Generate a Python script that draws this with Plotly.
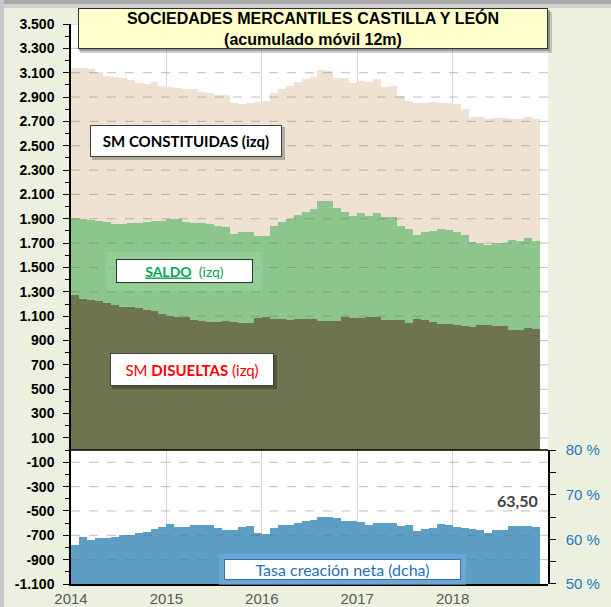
import numpy as np
import pandas as pd
import plotly.graph_objects as go

# ---------------- data ----------------
months = pd.date_range("2014-01-01", periods=59, freq="MS")

constituidas = [3140, 3140, 3130, 3105, 3075, 3065, 3060, 3040, 3015, 3010,
                3020, 2990, 2985, 2975, 2970, 2965, 2945, 2935, 2920, 2915,
                2850, 2840, 2855, 2860, 2870, 2930, 2970, 2990, 3020, 3045,
                3065, 3120, 3110, 3055, 3060, 3015, 3035, 3020, 3045, 2980,
                2990, 2910, 2870, 2850, 2850, 2860, 2855, 2855, 2845, 2800,
                2735, 2735, 2720, 2728, 2728, 2720, 2718, 2740, 2720]

saldo = [1905, 1895, 1890, 1880, 1870, 1860, 1858, 1862, 1868, 1870,
         1880, 1885, 1895, 1895, 1870, 1862, 1865, 1855, 1840, 1830,
         1775, 1790, 1795, 1762, 1762, 1840, 1875, 1900, 1935, 1955,
         1978, 2046, 2046, 1986, 1958, 1923, 1945, 1923, 1950, 1912,
         1912, 1841, 1816, 1767, 1789, 1802, 1816, 1808, 1795, 1767,
         1712, 1698, 1685, 1698, 1705, 1726, 1720, 1740, 1720]

disueltas = [1274, 1240, 1235, 1225, 1210, 1195, 1175, 1172, 1170, 1150,
             1140, 1115, 1100, 1095, 1090, 1070, 1060, 1055, 1055, 1058,
             1055, 1045, 1040, 1085, 1095, 1080, 1075, 1070, 1075, 1078,
             1075, 1062, 1060, 1058, 1090, 1085, 1088, 1092, 1092, 1068,
             1070, 1066, 1040, 1075, 1068, 1050, 1035, 1038, 1030, 1020,
             1015, 1025, 1028, 1020, 1020, 990, 985, 1000, 998]

tasa = [58.7, 60.4, 59.9, 60.3, 60.3, 60.5, 61.0, 61.0, 61.5, 61.6,
        62.2, 62.8, 63.5, 62.7, 62.8, 63.2, 63.2, 63.1, 62.6, 62.1,
        62.0, 62.8, 63.0, 61.3, 61.1, 62.6, 63.3, 63.3, 63.7, 64.0,
        64.4, 65.1, 65.1, 64.7, 64.0, 64.0, 63.8, 63.1, 63.6, 63.6,
        63.6, 62.9, 63.3, 61.9, 62.4, 62.6, 63.4, 63.1, 62.8, 62.6,
        62.3, 62.0, 61.4, 62.0, 62.0, 63.0, 63.0, 63.0, 62.8]

year_ticks = [2014, 2015, 2016, 2017, 2018]
left_ticks = list(range(-1100, 3501, 200))
left_ticktext = [f"{v:,}".replace(",", ".") for v in left_ticks]
right_ticks = [50, 60, 70, 80]
right_ticktext = [f"{v} %" for v in right_ticks]
last_label = "63,50"

# ---------------- layout geometry ----------------
W, H = 611, 607
L, R, T, B = 71, 548, 24, 584


def px(x):
    return (x - L) / (R - L)


def py(y):
    return (B - y) / (B - T)


xpos = months.year + (months.month - 0.5) / 12.0
bw = 1.0 / 12.0

C_BEIGE = "#F0E2D3"
C_GREEN = "#8DC68C"
C_DARK = "#6E7350"
C_BLUE = "#5D9EC4"

fig = go.Figure()
fig.add_trace(go.Bar(x=xpos, y=constituidas, width=bw, marker=dict(color=C_BEIGE, line=dict(width=0)),
                     name="SM constituidas"))
fig.add_trace(go.Bar(x=xpos, y=saldo, width=bw, marker=dict(color=C_GREEN, line=dict(width=0)),
                     name="Saldo"))
fig.add_trace(go.Bar(x=xpos, y=disueltas, width=bw, marker=dict(color=C_DARK, line=dict(width=0)),
                     name="SM disueltas"))
fig.add_trace(go.Bar(x=xpos, y=tasa, width=bw, yaxis="y2", marker=dict(color=C_BLUE, line=dict(width=0)),
                     name="Tasa creación neta"))

shapes = []
# dashed horizontal grid (drawn over bars, semi transparent)
for v in left_ticks:
    if v in (-1100,):
        continue
    shapes.append(dict(type="line", xref="paper", yref="y", x0=0, x1=1, y0=v, y1=v,
                       line=dict(color="rgba(110,110,110,0.45)", width=1, dash="dash"), layer="above"))
# zero line separating panels
shapes.append(dict(type="line", xref="paper", yref="y", x0=0, x1=1, y0=0, y1=0,
                   line=dict(color="black", width=1.5), layer="above"))
# frame at top and left
shapes.append(dict(type="rect", xref="paper", yref="paper", x0=px(0), x1=px(W), y0=py(0), y1=py(4),
                   fillcolor="#A9A9A9", line=dict(width=0), layer="above"))
shapes.append(dict(type="rect", xref="paper", yref="paper", x0=px(0), x1=px(W), y0=py(4), y1=py(8),
                   fillcolor="#D0D0D0", line=dict(width=0), layer="above"))
shapes.append(dict(type="rect", xref="paper", yref="paper", x0=px(0), x1=px(4), y0=py(H), y1=py(0),
                   fillcolor="#C8C8C8", line=dict(width=0), layer="above"))
# title shadow
shapes.append(dict(type="rect", xref="paper", yref="paper", x0=px(80), x1=px(552), y0=py(12), y1=py(53),
                   fillcolor="rgba(0,0,0,0.18)", line=dict(width=0), layer="above"))
shapes.append(dict(type="rect", xref="paper", yref="paper", x0=px(79), x1=px(550), y0=py(10), y1=py(51),
                   fillcolor="rgba(0,0,0,0.25)", line=dict(width=0), layer="above"))
# saldo glow
shapes.append(dict(type="rect", xref="paper", yref="paper", x0=px(106), x1=px(262), y0=py(252), y1=py(291),
                   fillcolor="rgba(150,215,160,0.55)", line=dict(width=0), layer="above"))
# tasa glow
shapes.append(dict(type="rect", xref="paper", yref="paper", x0=px(219), x1=px(466), y0=py(554), y1=py(585),
                   fillcolor="rgba(120,175,225,0.6)", line=dict(width=0), layer="above"))
# small shadows of label boxes
for (x0, x1, y0, y1) in [(92, 285, 127, 160), (112, 277, 355, 389)]:
    shapes.append(dict(type="rect", xref="paper", yref="paper", x0=px(x0), x1=px(x1), y0=py(y0), y1=py(y1),
                       fillcolor="rgba(0,0,0,0.25)", line=dict(width=0), layer="above"))


def box(text, x0, x1, y0, y1, font, bg="white", border="#404040", bw_=1):
    return dict(text=text, xref="paper", yref="paper",
                x=px((x0 + x1) / 2), y=py((y0 + y1) / 2), xanchor="center", yanchor="middle",
                showarrow=False, width=(x1 - x0) - 2 * bw_, height=(y1 - y0) - 2 * bw_,
                bgcolor=bg, bordercolor=border, borderwidth=bw_, borderpad=0,
                font=font, align="center", valign="middle")


annotations = [
    box("<b>SOCIEDADES MERCANTILES CASTILLA Y LEÓN<br>(acumulado móvil 12m)</b>", 78, 548, 8, 49,
        dict(family="Liberation Sans", size=16, color="black"), bg="#FFFFCC", border="#303030"),
    box("<b>SM CONSTITUIDAS (izq)</b>", 90, 282, 125, 157,
        dict(family="Lato", size=15, color="black")),
    box("<b><u>SALDO</u></b>\u00a0\u00a0(izq)", 116, 253, 259, 283,
        dict(family="Lato", size=14, color="#00A651"), border="#303030"),
    box("SM <b>DISUELTAS</b> (izq)", 110, 274, 353, 386,
        dict(family="Lato", size=15, color="#FF0000")),
    box("Tasa creación neta (dcha)", 224, 461, 559, 580,
        dict(family="Lato", size=16, color="#1F6FB8"), border="#2E75B6", bw_=1),
    dict(text="<b>" + last_label + "</b>", xref="paper", yref="paper", x=px(540), y=py(500),
         xanchor="right", yanchor="middle", showarrow=False,
         font=dict(family="Lato", size=16, color="#404040")),
]

fig.update_layout(
    width=W, height=H,
    margin=dict(l=L, r=W - R, t=T, b=H - B, pad=0, autoexpand=False),
    paper_bgcolor="#EBF1DE", plot_bgcolor="white",
    barmode="overlay", bargap=0, showlegend=False,
    shapes=shapes, annotations=annotations,
    xaxis=dict(range=[2014, 2019], tickvals=year_ticks, ticktext=[str(y) for y in year_ticks],
               showgrid=True, gridcolor="#D6D6D6", gridwidth=1, automargin=False,
               showline=True, linecolor="black", linewidth=1.5, ticks="", ticklen=0,
               tickfont=dict(family="Liberation Sans", size=15, color="#595959"),
               ticklabelstandoff=0, zeroline=False, anchor="y"),
    yaxis=dict(range=[-1100, 3500], tickvals=left_ticks, ticktext=left_ticktext,
               showgrid=False, zeroline=False, automargin=False,
               showline=True, linecolor="black", linewidth=1.5,
               ticks="outside", ticklen=6, tickcolor="black", tickwidth=1.2,
               minor=dict(tickmode="linear", tick0=-1100, dtick=100, ticks="outside", ticklen=4,
                          tickcolor="black", showgrid=False),
               tickfont=dict(family="Liberation Sans", size=14, color="black", weight="bold"),
               ticklabelstandoff=6),
    yaxis2=dict(domain=[0, 1100 / 4600], range=[50, 80], anchor="x", side="right",
                tickvals=right_ticks, ticktext=right_ticktext, automargin=False,
                showgrid=False, zeroline=False,
                showline=True, linecolor="black", linewidth=1.5,
                ticks="outside", ticklen=6, tickcolor="black", tickwidth=1.2,
                minor=dict(tickmode="linear", tick0=50, dtick=5, ticks="outside", ticklen=6,
                           tickcolor="black", showgrid=False),
                tickfont=dict(family="Liberation Sans", size=15, color="#1F78C0"),
                ticklabelstandoff=7),
)

fig.write_html("out.html", config={"displayModeBar": False},
               post_script="document.body.style.margin='0';document.body.style.overflow='hidden';")
